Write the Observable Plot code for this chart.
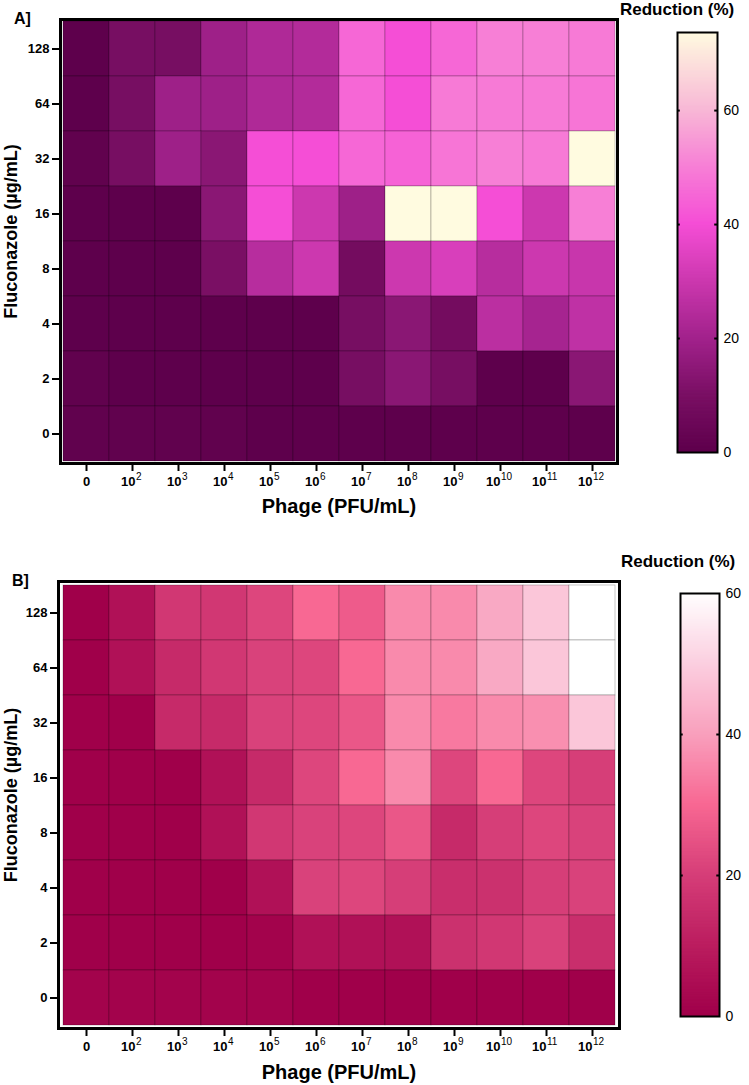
<!DOCTYPE html>
<html><head><meta charset="utf-8">
<script src="https://cdn.jsdelivr.net/npm/d3@7"></script>
<script src="https://cdn.jsdelivr.net/npm/@observablehq/plot@0.6"></script>
<style>
body{margin:0;background:#fff;font-family:"Liberation Sans",Arial,sans-serif;}
#root{position:relative;width:749px;height:1085px;overflow:hidden;background:#fff;}
.abs{position:absolute;}
.lbl{position:absolute;font-weight:bold;font-size:16px;color:#000;line-height:1;white-space:nowrap;}
</style></head><body><div id="root"></div>
<script>
const FONT = '"Liberation Sans", Arial, sans-serif';
const phage = ["0","1e2","1e3","1e4","1e5","1e6","1e7","1e8","1e9","1e10","1e11","1e12"];
const phageExp = ["","2","3","4","5","6","7","8","9","10","11","12"];
const fluconazole = ["128","64","32","16","8","4","2","0"];
const xTitle = "Phage (PFU/mL)";
const yTitle = "Fluconazole (µg/mL)";
const legendTitle = "Reduction (%)";

// rows: 128, 64, 32, 16, 8, 4, 2, 0 ; columns: phage order
const reductionA = [
  [0, 9, 9, 19, 23, 24, 45, 40, 45, 50, 50, 49],
  [0, 9, 19, 19, 23, 24, 45, 40, 49, 49, 49, 48],
  [1, 9, 19, 14, 40, 40, 45, 44, 48, 50, 49, 73.7],
  [0, 0, 0, 14, 40, 30, 19, 73.7, 73.7, 40, 30, 50],
  [0, 0, 0, 10, 25, 30, 8, 30, 33, 25, 30, 29],
  [0, 0, 0, 0, 0, 0, 9, 14, 8, 26, 21, 27],
  [1, 0, 0, 0, 0, 0, 9, 14, 9, 0, 0, 14],
  [1, 1, 1, 1, 0, 0, 0, 0, 0, 0, 0, 0]
];
const reductionB = [
  [0, 6, 18, 18, 22, 30, 27, 36, 36, 42, 48, 60],
  [0, 6, 14, 18, 21, 22, 30, 36, 36, 42, 48, 60],
  [0, 0, 14, 14, 21, 22, 26, 36, 33, 36, 37, 48],
  [0, 0, 0, 6, 14, 22, 30, 36, 22, 30, 22, 20],
  [0, 0, 0, 6, 18, 21, 22, 26, 14, 20, 22, 21],
  [0, 0, 0, 0, 6, 21, 22, 20, 15, 16, 20, 21],
  [0, 0, 0, 0, 1, 6, 6, 6, 16, 18, 21, 15],
  [1, 1, 1, 1, 1, 0, 0, 0, 0, 0, 0, 0]
];
const colorStopsA = [0, 10, 20, 30, 40, 50, 60, 73.7];
const colorsA = ["#5e004c", "#7a0f64", "#a2228c", "#cc38af", "#f54ed6", "#f77fd6", "#f8b8d6", "#fffbe0"];
const colorStopsB = [0, 10, 20, 30, 40, 50, 60];
const colorsB = ["#a0004a", "#bb1d5f", "#d63e78", "#f86893", "#f9a0bd", "#fbcfe0", "#ffffff"];
const legendTicksA = [0, 20, 40, 60];
const legendTicksB = [0, 20, 40, 60];

const root = document.getElementById("root");
function place(el, left, top) {
  el.classList.add("abs");
  el.style.left = left + "px";
  el.style.top = top + "px";
  root.appendChild(el);
}
function label(text, left, top, size) {
  const d = document.createElement("div");
  d.className = "lbl";
  d.textContent = text;
  d.style.left = left + "px";
  d.style.top = top + "px";
  if (size) d.style.fontSize = size + "px";
  root.appendChild(d);
}

function heatmap(vals, color, m, height) {
  const data = [];
  fluconazole.forEach((f, i) => phage.forEach((p, j) => data.push({f, p, v: vals[i][j]})));
  const single = phage.filter((p, j) => phageExp[j].length === 1);
  const dbl = phage.filter((p, j) => phageExp[j].length === 2);
  const expOf = p => phageExp[phage.indexOf(p)];
  const base = {frameAnchor: "bottom", lineAnchor: "middle", dy: 18.5, fontSize: 13, fontWeight: "bold"};
  const sup = {frameAnchor: "bottom", lineAnchor: "middle", dy: 13, fontSize: 10, textAnchor: "start"};
  return Plot.plot({
    width: 749, height,
    marginLeft: m.left, marginRight: m.right, marginTop: m.top, marginBottom: m.bottom,
    style: {fontFamily: FONT, background: "transparent", overflow: "visible", color: "#000"},
    x: {type: "band", domain: phage, padding: 0},
    y: {type: "band", domain: fluconazole, padding: 0},
    color,
    marks: [
      Plot.cell(data, {x: "p", y: "f", fill: "v", stroke: "#000", strokeOpacity: 0.32, strokeWidth: 0.7}),
      Plot.frame({stroke: "#000", strokeWidth: 3}),
      Plot.axisY({tickSize: 8, tickPadding: 3, strokeWidth: 2, fontSize: 13, fontWeight: "bold", label: null}),
      Plot.axisX({tickSize: 8, strokeWidth: 2, tickFormat: () => "", label: null}),
      Plot.text(["0"], {...base, x: d => d, text: d => d}),
      Plot.text(single, {...base, x: d => d, dx: 3, textAnchor: "end", text: () => "10"}),
      Plot.text(single, {...sup, x: d => d, dx: 3.5, text: expOf}),
      Plot.text(dbl, {...base, x: d => d, dx: 0, textAnchor: "end", text: () => "10"}),
      Plot.text(dbl, {...sup, x: d => d, dx: 0.5, text: expOf}),
      Plot.text([xTitle], {frameAnchor: "bottom", lineAnchor: "middle", textAnchor: "middle", dy: m.xTitleDy, text: d => d, fontSize: 20, fontWeight: "bold"}),
      Plot.text([yTitle], {frameAnchor: "left", lineAnchor: "middle", textAnchor: "middle", dx: m.yTitleDx, dy: -10, rotate: -90, text: d => d, fontSize: 18, fontWeight: "bold"})
    ]
  });
}

function colorbar(color, max, ticks, w, h, m) {
  const n = 300, step = max / n;
  const steps = d3.range(0, max, step);
  const inner = ticks.filter(t => t > 0 && t < max);
  return Plot.plot({
    width: w, height: h,
    marginLeft: m.left, marginRight: m.right, marginTop: m.top, marginBottom: m.bottom,
    style: {fontFamily: FONT, background: "transparent", overflow: "visible", color: "#000"},
    x: {domain: [0, 1], axis: null},
    y: {domain: [0, max]},
    color,
    marks: [
      Plot.rect(steps, {x1: 0, x2: 1, y1: d => d, y2: d => Math.min(max, d + step * 1.6), fill: d => d}),
      Plot.ruleY(inner, {x1: 0, x2: 0.07, strokeWidth: 2}),
      Plot.ruleY(inner, {x1: 0.93, x2: 1, strokeWidth: 2}),
      Plot.frame({stroke: "#000", strokeWidth: 2}),
      Plot.axisY({ticks, anchor: "right", tickSize: 0, tickPadding: 6, fontSize: 14, label: null})
    ]
  });
}

const colorA = {type: "linear", domain: colorStopsA, range: colorsA};
const colorB = {type: "linear", domain: colorStopsB, range: colorsB};

// Panel A
place(heatmap(reductionA, colorA, {left: 60, right: 132, top: 19, bottom: 57, xTitleDy: 43, yTitleDx: -49}, 520), 0, 0);
place(colorbar(colorA, 73.7, legendTicksA, 109, 470, {left: 37, right: 32, top: 32, bottom: 18}), 640, 0);
label("A]", 14, 11);
label(legendTitle, 620, 1, 17);

// Panel B
place(heatmap(reductionB, colorB, {left: 58, right: 130, top: 61, bottom: 57, xTitleDy: 44, yTitleDx: -47}, 565), 0, 520);
place(colorbar(colorB, 60, legendTicksB, 109, 520, {left: 40, right: 30, top: 73, bottom: 24}), 640, 520);
label("B]", 12, 573);
label(legendTitle, 621, 553, 17);
</script></body></html>
